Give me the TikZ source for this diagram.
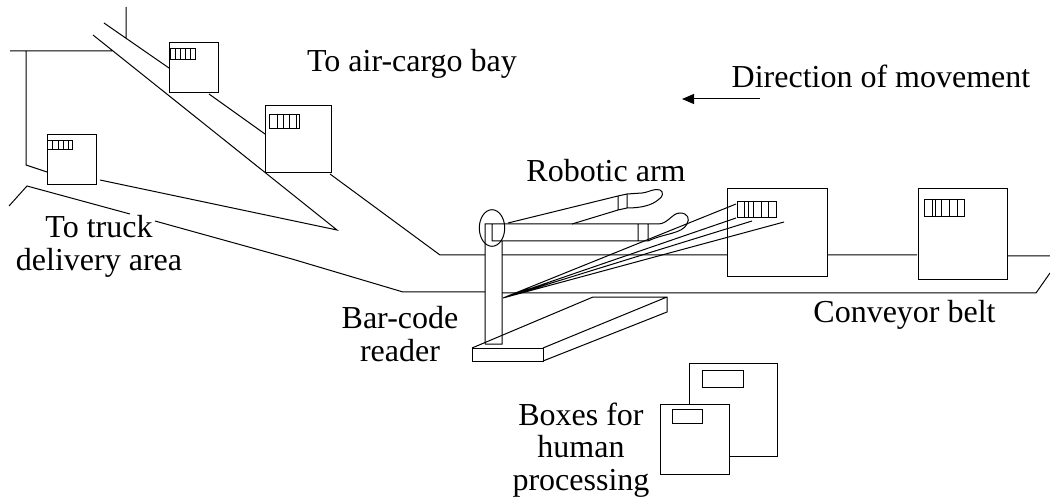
\documentclass[tikz,border=0pt]{standalone}
\usepackage{fontspec}
\setmainfont{Liberation Serif}
\usetikzlibrary{arrows.meta}
\tikzset{
  caption/.style={font=\fontsize{32}{32.5}\selectfont, align=center, inner sep=0pt, anchor=base},
  line/.style={line width=1pt, line join=miter}
}
\begin{document}
\begin{tikzpicture}[x=1pt, y=-1pt]
      \useasboundingbox (0, 0) rectangle (1050, 497);
      \draw[line] (126, 7) -- (126, 38)
            (104, 23) -- (169, 68)
            (93, 35) -- (337, 230) -- (100, 180)
            (10, 51) -- (112, 51)
            (26, 51) -- (26, 165) -- (47, 172)
            (209, 94) -- (265, 134)
            (330, 174) -- (440, 255) -- (485, 255)
            (502, 255) -- (727, 255)
            (828, 255) -- (917, 255)
            (1007, 256) -- (1050, 256)
            (9, 206) -- (27, 186) -- (130, 214)
            (155, 221) -- (292, 259) -- (403, 292) -- (485, 292)
            (502, 293) -- (1036, 293) -- (1050, 273);
      \draw[line] (47, 135) rectangle (96, 185)
            (47, 141) rectangle (72, 150)
            (169, 43) rectangle (218, 93)
            (170, 49) rectangle (195, 60)
            (265, 106) rectangle (331, 173)
            (269, 115) rectangle (299, 129)
            (727, 189) rectangle (827, 277)
            (737, 202) rectangle (776, 218)
            (918, 189) rectangle (1007, 280)
            (924, 200) rectangle (964, 217);
      \foreach \x in {52, 58, 63, 68} \draw[line] (\x, 141) -- (\x, 150);
      \foreach \x in {175, 180, 185, 190} \draw[line] (\x, 49) -- (\x, 60);
      \foreach \x in {277, 283, 289, 296} \draw[line] (\x, 115) -- (\x, 129);
      \foreach \x in {744, 748, 753, 761, 768} \draw[line] (\x, 202) -- (\x, 218);
      \foreach \x in {932, 935, 941, 949, 957} \draw[line] (\x, 200) -- (\x, 217);
      \draw[line] (472, 348) -- (593, 297) -- (667, 297) -- (667, 312) -- (543, 361)
            (543, 348) -- (667, 297);
      \draw[line] (472, 348) rectangle (543, 361);
      \draw[line] (485, 344) -- (485, 224) -- (658, 224)
            .. controls (668, 224) and (672, 213) .. (680, 213)
            .. controls (688, 213) and (690, 219) .. (687, 224)
            .. controls (682, 234) and (665, 233) .. (648, 241) -- (492, 241) -- (492, 224)
            (502, 241) -- (502, 344) -- (485, 344)
            (638, 224) -- (638, 241)
            (648, 224) -- (648, 241);
      \draw[line] (508, 223) -- (618, 196) -- (627, 194) -- (642, 193)
            .. controls (650, 192) and (654, 188) .. (660, 190)
            .. controls (664, 192) and (663, 197) .. (658, 200)
            .. controls (652, 205) and (642, 208) .. (627, 208) -- (618, 210) -- (572, 224)
            (618, 196) -- (618, 210)
            (627, 194) -- (627, 208);
      \draw[line] (492, 228) ellipse [x radius=12.7, y radius=18.3];
      \draw[line] (736, 204) -- (503, 298) -- (736, 218)
            (752, 221) -- (503, 298) -- (784, 222);
      \draw[line] (689, 404) -- (689, 363) -- (777, 363) -- (777, 456) -- (729, 456)
            (702, 370) rectangle (743, 387)
            (660, 404) rectangle (729, 474)
            (672, 409) rectangle (702, 423);
      \coordinate (movestart) at (760, 99);
      \coordinate (moveend) at (682, 99);
      \draw[line, -{Stealth[length=12pt, width=10pt, inset=0pt]}] (movestart) -- (moveend);
      \node (aircargo) [caption] at (412, 72) {To air-cargo bay};
      \node (direction) [caption] at (881, 88) {Direction of movement};
      \node (arm) [caption] at (606, 182) {Robotic arm};
      \node (truck) [caption] at (99, 270.5) {To truck\\delivery area};
      \node (reader) [caption] at (400, 361) {Bar-code\\reader};
      \node (belt) [caption] at (904.5, 322) {Conveyor belt};
      \node (human) [caption] at (581, 490) {Boxes for\\human\\processing};
      \end{tikzpicture}
\end{document}
